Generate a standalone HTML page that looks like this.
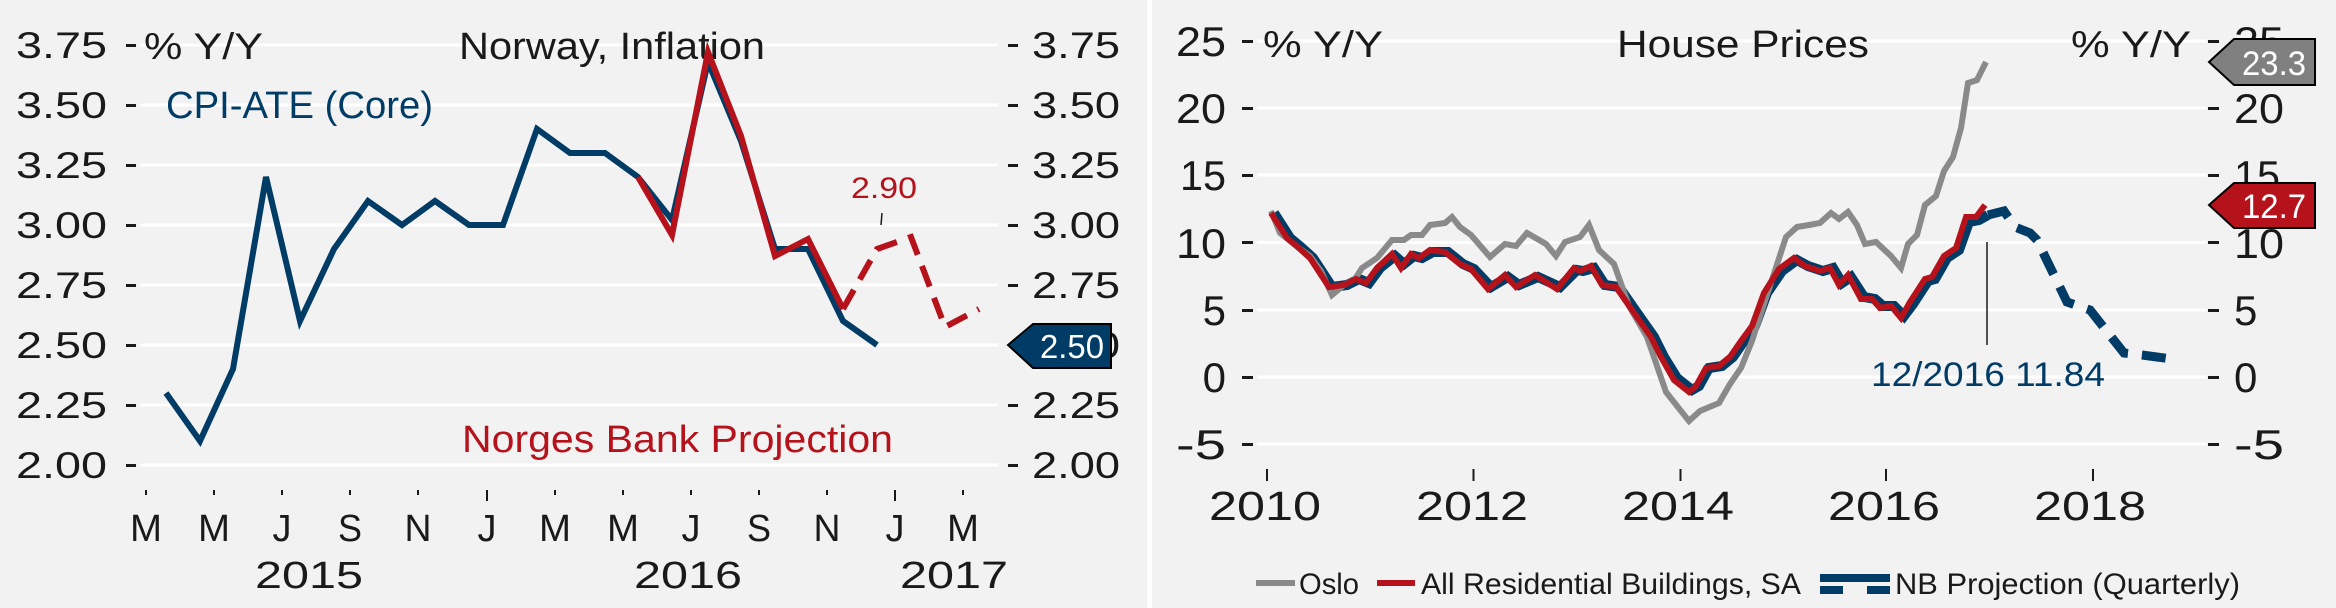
<!DOCTYPE html>
<html><head><meta charset="utf-8"><style>
html,body{margin:0;padding:0;background:#f2f2f2;}
svg{display:block;}
text{font-family:"Liberation Sans Narrow","Liberation Sans",sans-serif;fill:#1a1a1a;}
</style></head><body>
<svg width="2336" height="608" viewBox="0 0 2336 608" xmlns="http://www.w3.org/2000/svg">
<rect x="0" y="0" width="2336" height="608" fill="#f2f2f2"/>
<rect x="1147" y="0" width="5" height="608" fill="#ffffff"/>

<!-- LEFT CHART -->
<g stroke="#ffffff" stroke-width="3">
<line x1="140" y1="45" x2="998" y2="45"/><line x1="140" y1="105" x2="998" y2="105"/>
<line x1="140" y1="165" x2="998" y2="165"/><line x1="140" y1="225" x2="998" y2="225"/>
<line x1="140" y1="285" x2="998" y2="285"/><line x1="140" y1="345" x2="998" y2="345"/>
<line x1="140" y1="405" x2="998" y2="405"/><line x1="140" y1="465" x2="998" y2="465"/>
</g>
<g font-size="37" text-anchor="end">
<text x="107" y="58" textLength="91" lengthAdjust="spacingAndGlyphs">3.75</text>
<text x="107" y="118" textLength="91" lengthAdjust="spacingAndGlyphs">3.50</text>
<text x="107" y="178" textLength="91" lengthAdjust="spacingAndGlyphs">3.25</text>
<text x="107" y="238" textLength="91" lengthAdjust="spacingAndGlyphs">3.00</text>
<text x="107" y="298" textLength="91" lengthAdjust="spacingAndGlyphs">2.75</text>
<text x="107" y="358" textLength="91" lengthAdjust="spacingAndGlyphs">2.50</text>
<text x="107" y="418" textLength="91" lengthAdjust="spacingAndGlyphs">2.25</text>
<text x="107" y="478" textLength="91" lengthAdjust="spacingAndGlyphs">2.00</text>
</g>
<g font-size="37">
<text x="1032" y="58" textLength="88" lengthAdjust="spacingAndGlyphs">3.75</text>
<text x="1032" y="118" textLength="88" lengthAdjust="spacingAndGlyphs">3.50</text>
<text x="1032" y="178" textLength="88" lengthAdjust="spacingAndGlyphs">3.25</text>
<text x="1032" y="238" textLength="88" lengthAdjust="spacingAndGlyphs">3.00</text>
<text x="1032" y="298" textLength="88" lengthAdjust="spacingAndGlyphs">2.75</text>
<text x="1032" y="358" textLength="88" lengthAdjust="spacingAndGlyphs">2.50</text>
<text x="1032" y="418" textLength="88" lengthAdjust="spacingAndGlyphs">2.25</text>
<text x="1032" y="478" textLength="88" lengthAdjust="spacingAndGlyphs">2.00</text>
</g>
<g fill="#1a1a1a">
<rect x="126" y="44" width="10" height="3"/><rect x="126" y="104" width="10" height="3"/><rect x="126" y="164" width="10" height="3"/><rect x="126" y="224" width="10" height="3"/><rect x="126" y="284" width="10" height="3"/><rect x="126" y="344" width="10" height="3"/><rect x="126" y="404" width="10" height="3"/><rect x="126" y="464" width="10" height="3"/>
<rect x="1008" y="44" width="10" height="3"/><rect x="1008" y="104" width="10" height="3"/><rect x="1008" y="164" width="10" height="3"/><rect x="1008" y="224" width="10" height="3"/><rect x="1008" y="284" width="10" height="3"/><rect x="1008" y="404" width="10" height="3"/><rect x="1008" y="464" width="10" height="3"/>
</g>
<text x="144" y="59" font-size="37" textLength="119" lengthAdjust="spacingAndGlyphs">% Y/Y</text>
<text x="459" y="59" font-size="38" textLength="306" lengthAdjust="spacingAndGlyphs">Norway, Inflation</text>
<text x="166" y="118" font-size="38" textLength="267" lengthAdjust="spacingAndGlyphs" style="fill:#003c66">CPI-ATE (Core)</text>
<text x="462" y="452" font-size="38" textLength="431" lengthAdjust="spacingAndGlyphs" style="fill:#b5121b">Norges Bank Projection</text>
<text x="851" y="198" font-size="30" textLength="66" lengthAdjust="spacingAndGlyphs" style="fill:#b5121b">2.90</text>
<line x1="882" y1="213" x2="881" y2="225" stroke="#1a1a1a" stroke-width="1.5"/>
<!-- x ticks -->
<g stroke="#1a1a1a" stroke-width="2">
<line x1="146" y1="490" x2="146" y2="495"/><line x1="214" y1="490" x2="214" y2="495"/><line x1="282" y1="490" x2="282" y2="495"/><line x1="350" y1="490" x2="350" y2="495"/><line x1="418" y1="490" x2="418" y2="495"/><line x1="487" y1="490" x2="487" y2="501"/><line x1="555" y1="490" x2="555" y2="495"/><line x1="623" y1="490" x2="623" y2="495"/><line x1="691" y1="490" x2="691" y2="495"/><line x1="759" y1="490" x2="759" y2="495"/><line x1="827" y1="490" x2="827" y2="495"/><line x1="895" y1="490" x2="895" y2="501"/><line x1="963" y1="490" x2="963" y2="495"/>
</g>
<g font-size="38" text-anchor="middle">
<text x="146" y="541" textLength="32" lengthAdjust="spacingAndGlyphs">M</text><text x="214" y="541" textLength="32" lengthAdjust="spacingAndGlyphs">M</text><text x="282" y="541">J</text><text x="350" y="541" textLength="24" lengthAdjust="spacingAndGlyphs">S</text><text x="418" y="541" textLength="27" lengthAdjust="spacingAndGlyphs">N</text><text x="487" y="541">J</text><text x="555" y="541" textLength="32" lengthAdjust="spacingAndGlyphs">M</text><text x="623" y="541" textLength="32" lengthAdjust="spacingAndGlyphs">M</text><text x="691" y="541">J</text><text x="759" y="541" textLength="24" lengthAdjust="spacingAndGlyphs">S</text><text x="827" y="541" textLength="27" lengthAdjust="spacingAndGlyphs">N</text><text x="895" y="541">J</text><text x="963" y="541" textLength="32" lengthAdjust="spacingAndGlyphs">M</text>
<text x="309" y="588" textLength="108" lengthAdjust="spacingAndGlyphs">2015</text>
<text x="688" y="588" textLength="108" lengthAdjust="spacingAndGlyphs">2016</text>
<text x="954" y="588" textLength="108" lengthAdjust="spacingAndGlyphs">2017</text>
</g>
<polyline fill="none" stroke="#003c66" stroke-width="6" points="166,393 200,441 233,369 266,177 300,321 334,249 368,201 402,225 435,201 469,225 503,225 537,129 570,153 605,153 638,177 672,220 708,62 741,141 775,249 808,249 843,321 877,345"/>
<polyline fill="none" stroke="#b5121b" stroke-width="6" points="638,177 672,235 708,52 741,136 775,256 808,239 843,309"/>
<polyline fill="none" stroke="#b5121b" stroke-width="6" stroke-dasharray="22 12" points="843,309 877,249 911,237 945,327 979,309"/>
<polygon points="1008,345 1033,324 1111,324 1111,368 1033,368" fill="#003c66" stroke="#000" stroke-width="2"/>
<text x="1072" y="358" font-size="33" text-anchor="middle" style="fill:#fff" textLength="64" lengthAdjust="spacingAndGlyphs">2.50</text>

<!-- RIGHT CHART -->
<g stroke="#ffffff" stroke-width="3">
<line x1="1257" y1="41" x2="2206" y2="41"/><line x1="1257" y1="108" x2="2206" y2="108"/>
<line x1="1257" y1="175" x2="2206" y2="175"/><line x1="1257" y1="242.5" x2="2206" y2="242.5"/>
<line x1="1257" y1="310" x2="2206" y2="310"/><line x1="1257" y1="377" x2="2206" y2="377"/>
<line x1="1257" y1="444" x2="2206" y2="444"/>
</g>
<g font-size="42" text-anchor="end">
<text x="1226" y="56" textLength="50" lengthAdjust="spacingAndGlyphs">25</text><text x="1226" y="123" textLength="50" lengthAdjust="spacingAndGlyphs">20</text><text x="1226" y="190" textLength="46" lengthAdjust="spacingAndGlyphs">15</text><text x="1226" y="258" textLength="50" lengthAdjust="spacingAndGlyphs">10</text><text x="1226" y="325">5</text><text x="1226" y="392">0</text><text x="1226" y="459" textLength="50" lengthAdjust="spacingAndGlyphs">-5</text>
</g>
<g font-size="42">
<text x="2234" y="56" textLength="50" lengthAdjust="spacingAndGlyphs">25</text><text x="2234" y="123" textLength="50" lengthAdjust="spacingAndGlyphs">20</text><text x="2234" y="190" textLength="46" lengthAdjust="spacingAndGlyphs">15</text><text x="2234" y="258" textLength="50" lengthAdjust="spacingAndGlyphs">10</text><text x="2234" y="325">5</text><text x="2234" y="392">0</text><text x="2234" y="459" textLength="50" lengthAdjust="spacingAndGlyphs">-5</text>
</g>
<g fill="#1a1a1a">
<rect x="1242" y="40" width="11" height="3"/><rect x="1242" y="107" width="11" height="3"/><rect x="1242" y="174" width="11" height="3"/><rect x="1242" y="241" width="11" height="3"/><rect x="1242" y="309" width="11" height="3"/><rect x="1242" y="376" width="11" height="3"/><rect x="1242" y="443" width="11" height="3"/>
<rect x="2208" y="40" width="11" height="3"/><rect x="2208" y="107" width="11" height="3"/><rect x="2208" y="174" width="11" height="3"/><rect x="2208" y="241" width="11" height="3"/><rect x="2208" y="309" width="11" height="3"/><rect x="2208" y="376" width="11" height="3"/><rect x="2208" y="443" width="11" height="3"/>
</g>
<text x="1263" y="57" font-size="37" textLength="120" lengthAdjust="spacingAndGlyphs">% Y/Y</text>
<text x="2071" y="57" font-size="37" textLength="120" lengthAdjust="spacingAndGlyphs">% Y/Y</text>
<text x="1617" y="57" font-size="38" textLength="252" lengthAdjust="spacingAndGlyphs">House Prices</text>
<g stroke="#1a1a1a" stroke-width="2">
<line x1="1267" y1="469" x2="1267" y2="481"/><line x1="1473.5" y1="469" x2="1473.5" y2="481"/><line x1="1680.5" y1="469" x2="1680.5" y2="481"/><line x1="1886" y1="469" x2="1886" y2="481"/><line x1="2093" y1="469" x2="2093" y2="481"/>
</g>
<g font-size="41" text-anchor="middle">
<text x="1265" y="520" textLength="112" lengthAdjust="spacingAndGlyphs">2010</text>
<text x="1472" y="520" textLength="112" lengthAdjust="spacingAndGlyphs">2012</text>
<text x="1678" y="520" textLength="112" lengthAdjust="spacingAndGlyphs">2014</text>
<text x="1884" y="520" textLength="112" lengthAdjust="spacingAndGlyphs">2016</text>
<text x="2090" y="520" textLength="112" lengthAdjust="spacingAndGlyphs">2018</text>
</g>
<!-- blue historical -->
<polyline fill="none" stroke="#003c66" stroke-width="10" points="1274,213 1290,238 1302,248 1313,258 1332,287 1347,285 1359,279 1369,283 1380,268 1395,256 1404,264 1414,256 1422,258 1433,252 1448,252 1463,264 1474,269 1491,287 1508,277 1519,285 1538,277 1560,287 1577,270 1583,271 1594,268 1605,285 1619,287 1635,310 1654,337 1664,357 1677,378 1692,390 1699,386 1709,368 1722,366 1733,357 1744,341 1755,326 1767,293 1782,271 1797,260 1808,266 1823,271 1833,268 1842,283 1851,277 1864,297 1875,299 1883,306 1894,306 1904,316 1913,304 1928,281 1935,279 1947,258 1959,250 1969,222 1979,220 1988,215"/>
<polyline fill="none" stroke="#003c66" stroke-width="9" stroke-dasharray="24 14" points="1988,215 2004,211 2015,227 2030,233 2037,240 2067,302 2090,310 2124,353 2142,355 2172,359"/>
<!-- oslo -->
<polyline fill="none" stroke="#8a8a8a" stroke-width="6" points="1271,211 1280,233 1299,248 1310,256 1321,271 1332,295 1344,285 1355,279 1362,268 1377,258 1392,240 1404,240 1411,235 1422,235 1430,225 1445,223 1452,217 1460,227 1471,235 1490,257 1505,244 1516,246 1527,233 1546,244 1556,256 1565,242 1580,237 1589,225 1599,250 1614,264 1629,306 1647,337 1666,392 1681,411 1689,421 1700,411 1719,403 1730,384 1741,368 1752,341 1767,295 1786,237 1797,227 1809,225 1820,223 1831,213 1839,219 1848,212 1857,225 1865,244 1876,242 1891,256 1901,268 1908,244 1917,235 1925,205 1936,196 1944,171 1953,157 1961,128 1968,83 1977,80 1986,62"/>
<!-- red -->
<polyline fill="none" stroke="#b5121b" stroke-width="6" points="1271,213 1287,238 1299,248 1310,258 1329,287 1344,285 1356,279 1366,283 1377,268 1392,254 1401,268 1411,254 1419,258 1430,250 1445,252 1460,264 1471,269 1488,289 1505,275 1516,287 1535,275 1557,289 1574,268 1580,271 1591,266 1602,285 1616,287 1632,310 1651,337 1661,357 1674,380 1689,392 1696,386 1706,368 1719,366 1730,357 1741,341 1752,326 1764,293 1779,269 1794,258 1805,266 1820,271 1830,268 1839,285 1848,275 1861,299 1872,299 1880,308 1891,306 1901,318 1910,302 1925,279 1932,277 1944,256 1956,248 1966,217 1976,217 1985,205"/>
<line x1="1987" y1="242" x2="1987" y2="345" stroke="#1a1a1a" stroke-width="1.5"/>
<text x="1871" y="386" font-size="34" textLength="234" lengthAdjust="spacingAndGlyphs" style="fill:#003c66">12/2016 11.84</text>
<polygon points="2209,62 2234,39 2315,39 2315,85 2234,85" fill="#808080" stroke="#000" stroke-width="2"/>
<text x="2274" y="75" font-size="34" text-anchor="middle" style="fill:#fff" textLength="64" lengthAdjust="spacingAndGlyphs">23.3</text>
<polygon points="2209,205 2234,183 2315,183 2315,228 2234,228" fill="#b5121b" stroke="#000" stroke-width="2"/>
<text x="2274" y="218" font-size="34" text-anchor="middle" style="fill:#fff" textLength="64" lengthAdjust="spacingAndGlyphs">12.7</text>
<!-- legend -->
<rect x="1256" y="580" width="39" height="6" fill="#8a8a8a"/>
<text x="1299" y="594" font-size="30" textLength="60" lengthAdjust="spacingAndGlyphs">Oslo</text>
<rect x="1377" y="580" width="38" height="6" fill="#b5121b"/>
<text x="1421" y="594" font-size="30" textLength="380" lengthAdjust="spacingAndGlyphs">All Residential Buildings, SA</text>
<rect x="1820" y="574" width="70" height="8" fill="#003c66"/>
<rect x="1820" y="586" width="23" height="8" fill="#003c66"/>
<rect x="1867" y="586" width="23" height="8" fill="#003c66"/>
<text x="1895" y="594" font-size="30" textLength="345" lengthAdjust="spacingAndGlyphs">NB Projection (Quarterly)</text>
</svg>
</body></html>
